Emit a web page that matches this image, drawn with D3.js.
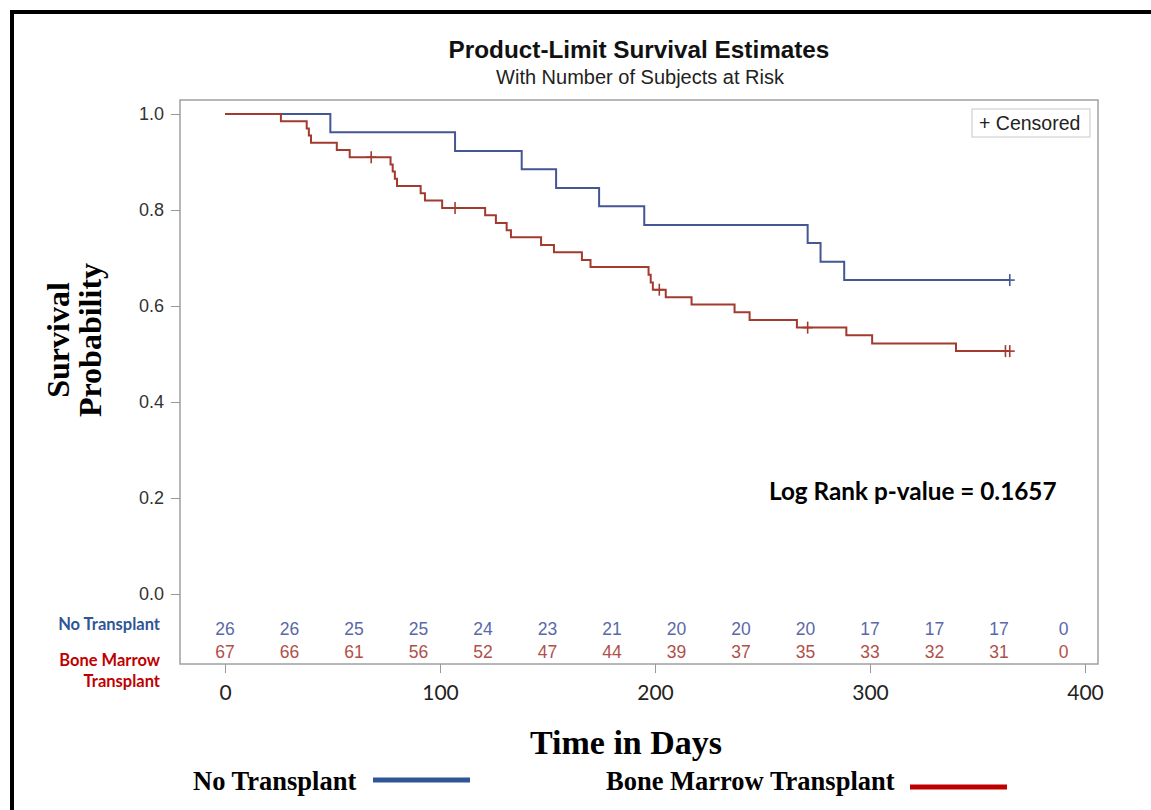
<!DOCTYPE html>
<html>
<head>
<meta charset="utf-8">
<script src="https://d3js.org/d3.v7.min.js"></script>
<style>
  html, body { margin: 0; background: #fff; overflow: hidden; }
  svg { display: block; overflow: hidden; }
</style>
</head>
<body>
<div id="chart"></div>
<script>
// Product-limit (Kaplan-Meier) curves
const noTxTimes = [0, 49, 107, 138, 154, 174, 195, 271, 277, 288];
const noTxSurv = [1, 0.962, 0.923, 0.885, 0.846, 0.808, 0.769, 0.731, 0.692, 0.654];
const noTxEnd = 365;
const noTxCensorTimes = [365];
const noTxCensorSurv = [0.654];

const bmtTimes = [0, 26, 38, 39, 40, 52, 58, 77, 78, 79, 80, 91, 93, 101, 121, 126, 131, 133,
    147, 153, 166, 170, 197, 198, 199, 205, 217, 237, 244, 266, 289, 301, 340];
const bmtSurv = [1, 0.985, 0.970, 0.955, 0.940, 0.925, 0.910, 0.895, 0.880, 0.865, 0.850, 0.835,
    0.820, 0.804, 0.789, 0.773, 0.758, 0.743, 0.727, 0.712, 0.696, 0.681, 0.665, 0.649, 0.634,
    0.618, 0.603, 0.587, 0.571, 0.555, 0.539, 0.522, 0.506];
const bmtEnd = 365;
const bmtCensorTimes = [68, 107, 202, 271, 363, 365];
const bmtCensorSurv = [0.910, 0.804, 0.634, 0.555, 0.506, 0.506];

// number at risk table
const atRiskTimes = [0, 30, 60, 90, 120, 150, 180, 210, 240, 270, 300, 330, 360, 390];
const atRiskNoTx = [26, 26, 25, 25, 24, 23, 21, 20, 20, 20, 17, 17, 17, 0];
const atRiskBmt = [67, 66, 61, 56, 52, 47, 44, 39, 37, 35, 33, 32, 31, 0];

const xTicks = [0, 100, 200, 300, 400];
const yTicks = [0, 0.2, 0.4, 0.6, 0.8, 1.0];

const BLUE = '#445694', RED = '#A23A2E';
const W = 1151, H = 810;
const frame = { left: 180, top: 100, right: 1098, bottom: 664 };

const svg = d3.select('#chart').append('svg').attr('width', W).attr('height', H);

const x = d3.scaleLinear().domain([0, 400]).range([225, 1085]);
const y = d3.scaleLinear().domain([0, 1]).range([594, 114]);

// outer black border: left and top edges only
svg.append('line').attr('x1', 12).attr('x2', 12).attr('y1', 10).attr('y2', H)
    .attr('stroke', '#000').attr('stroke-width', 4);
svg.append('line').attr('x1', 10).attr('x2', W).attr('y1', 12).attr('y2', 12)
    .attr('stroke', '#000').attr('stroke-width', 4);

// titles
const sans = '"Liberation Sans", Arial, sans-serif';
svg.append('text')
    .attr('x', 639).attr('y', 58)
    .attr('text-anchor', 'middle')
    .style('font', `bold 24.3px ${sans}`)
    .attr('fill', '#111')
    .text('Product-Limit Survival Estimates');
svg.append('text')
    .attr('x', 640).attr('y', 84)
    .attr('text-anchor', 'middle')
    .style('font', `20px ${sans}`)
    .attr('fill', '#222')
    .text('With Number of Subjects at Risk');

// plot frame
svg.append('rect')
    .attr('x', frame.left).attr('y', frame.top)
    .attr('width', frame.right - frame.left).attr('height', frame.bottom - frame.top)
    .attr('fill', 'none').attr('stroke', '#a0a0a0').attr('stroke-width', 1.5);

// Y axis
const yAxis = svg.append('g')
    .attr('transform', `translate(${frame.left},0)`)
    .call(d3.axisLeft(y).tickValues(yTicks).tickFormat(d3.format('.1f')).tickSize(9).tickPadding(7));
yAxis.select('.domain').remove();
yAxis.selectAll('line').attr('stroke', '#999');
yAxis.selectAll('text').attr('fill', '#333').style('font', `18px ${sans}`);

// X axis
const xAxis = svg.append('g')
    .attr('transform', `translate(0,${frame.bottom})`)
    .call(d3.axisBottom(x).tickValues(xTicks).tickSize(9).tickPadding(12));
xAxis.select('.domain').remove();
xAxis.selectAll('line').attr('stroke', '#999');
xAxis.selectAll('text').attr('fill', '#222').style('font', '21px Lato, "Open Sans", sans-serif');

// step curves
const stepLine = d3.line()
    .x(d => x(d[0]))
    .y(d => y(d[1]))
    .curve(d3.curveStepAfter);

function drawCurve(times, surv, end, color) {
    const pts = times.map((t, i) => [t, surv[i]]);
    pts.push([end, surv[surv.length - 1]]);
    svg.append('path')
        .datum(pts)
        .attr('d', stepLine)
        .attr('fill', 'none')
        .attr('stroke', color)
        .attr('stroke-width', 2);
}

function drawCensors(times, surv, color) {
    const g = svg.append('g').attr('stroke', color).attr('stroke-width', 1.6);
    const pts = times.map((t, i) => [t, surv[i]]);
    g.selectAll('.cv').data(pts).enter().append('line')
        .attr('x1', d => x(d[0])).attr('x2', d => x(d[0]))
        .attr('y1', d => y(d[1]) - 6).attr('y2', d => y(d[1]) + 6);
    g.selectAll('.ch').data(pts).enter().append('line')
        .attr('x1', d => x(d[0]) - 5).attr('x2', d => x(d[0]) + 5)
        .attr('y1', d => y(d[1])).attr('y2', d => y(d[1]));
}

drawCurve(noTxTimes, noTxSurv, noTxEnd, BLUE);
drawCurve(bmtTimes, bmtSurv, bmtEnd, RED);
drawCensors(noTxCensorTimes, noTxCensorSurv, BLUE);
drawCensors(bmtCensorTimes, bmtCensorSurv, RED);

// censored legend
svg.append('rect')
    .attr('x', 972).attr('y', 109).attr('width', 118).attr('height', 28)
    .attr('fill', '#fff').attr('stroke', '#c8c8c8');
svg.append('text')
    .attr('x', 979).attr('y', 130)
    .style('font', `19.5px ${sans}`)
    .attr('fill', '#222')
    .text('+ Censored');

// log-rank annotation
svg.append('text')
    .attr('x', 769).attr('y', 500)
    .style('font', 'bold 24.3px Lato, "Open Sans", sans-serif')
    .attr('fill', '#000')
    .text('Log Rank p-value = 0.1657');

// at-risk numbers
function drawRisk(values, yPos, color) {
    svg.append('g').selectAll('text')
        .data(values.map((v, i) => [atRiskTimes[i], v]))
        .enter().append('text')
        .attr('x', d => x(d[0]))
        .attr('y', yPos)
        .attr('text-anchor', 'middle')
        .attr('fill', color)
        .style('font', `17.5px ${sans}`)
        .text(d => d[1]);
}
drawRisk(atRiskNoTx, 635, '#5a68a8');
drawRisk(atRiskBmt, 658, '#b0504a');

// at-risk row labels
const rowLabelFont = 'bold 16.5px Lato, "Open Sans", sans-serif';
svg.append('text').attr('x', 160).attr('y', 630).attr('text-anchor', 'end')
    .style('font', rowLabelFont).attr('fill', '#2f5597').text('No Transplant');
svg.append('text').attr('x', 160).attr('y', 666).attr('text-anchor', 'end')
    .style('font', rowLabelFont).attr('fill', '#c00000').text('Bone Marrow');
svg.append('text').attr('x', 160).attr('y', 687).attr('text-anchor', 'end')
    .style('font', rowLabelFont).attr('fill', '#c00000').text('Transplant');

// axis titles
const serifBold = '"Liberation Serif", "DejaVu Serif", serif';
const yTitle = svg.append('text')
    .attr('transform', 'translate(0,340) rotate(-90)')
    .attr('text-anchor', 'middle')
    .style('font', `bold 32px ${serifBold}`)
    .attr('fill', '#000');
yTitle.append('tspan').attr('x', 0).attr('y', 69).text('Survival');
yTitle.append('tspan').attr('x', 0).attr('y', 101).text('Probability');

svg.append('text')
    .attr('x', 626).attr('y', 754)
    .attr('text-anchor', 'middle')
    .style('font', `bold 34px ${serifBold}`)
    .attr('fill', '#000')
    .text('Time in Days');

// bottom legend
const legendFont = `bold 26.5px ${serifBold}`;
svg.append('text').attr('x', 193).attr('y', 790)
    .style('font', legendFont).attr('fill', '#000').text('No Transplant');
svg.append('line').attr('x1', 373).attr('x2', 470).attr('y1', 780).attr('y2', 780)
    .attr('stroke', '#2f5597').attr('stroke-width', 5);
svg.append('text').attr('x', 606).attr('y', 790)
    .style('font', legendFont).attr('fill', '#000').text('Bone Marrow Transplant');
svg.append('line').attr('x1', 910).attr('x2', 1007).attr('y1', 787).attr('y2', 787)
    .attr('stroke', '#c00000').attr('stroke-width', 5);
</script>
</body>
</html>
